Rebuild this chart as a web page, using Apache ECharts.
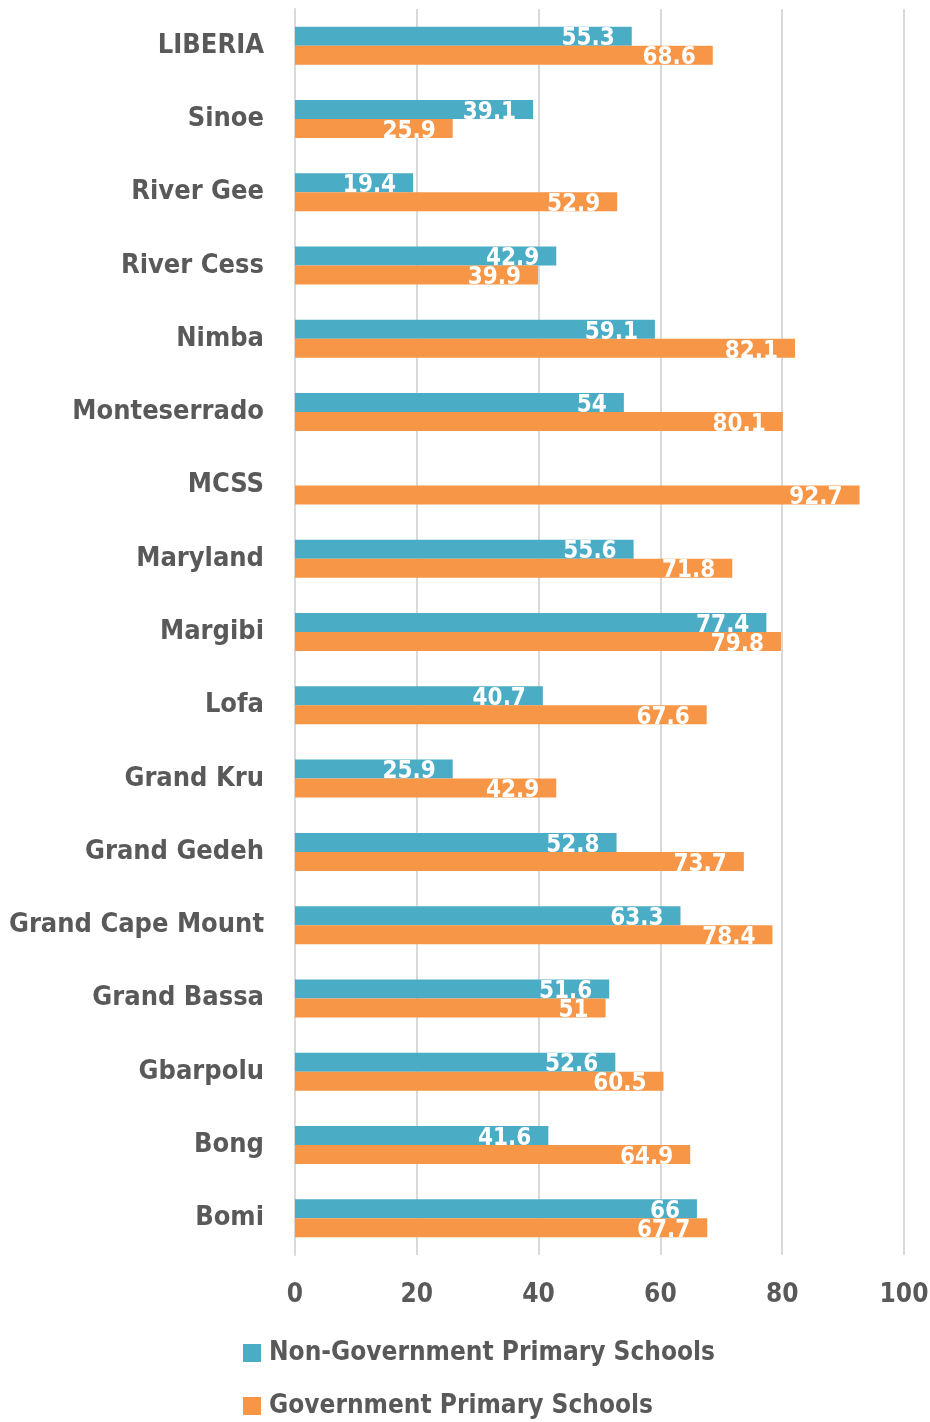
<!DOCTYPE html>
<html>
<head>
<meta charset="utf-8">
<script src="https://cdn.jsdelivr.net/npm/echarts@6/dist/echarts.min.js"></script>
<style>
html,body{margin:0;padding:0;background:#fff;}
#chart{width:930px;height:1422px;}
</style>
</head>
<body>
<div id="chart"></div>
<script>
const categories = ["LIBERIA","Sinoe","River Gee","River Cess","Nimba","Monteserrado","MCSS","Maryland","Margibi","Lofa","Grand Kru","Grand Gedeh","Grand Cape Mount","Grand Bassa","Gbarpolu","Bong","Bomi"];
const nonGovValues = [55.3,39.1,19.4,42.9,59.1,54,null,55.6,77.4,40.7,25.9,52.8,63.3,51.6,52.6,41.6,66];
const govValues = [68.6,25.9,52.9,39.9,82.1,80.1,92.7,71.8,79.8,67.6,42.9,73.7,78.4,51,60.5,64.9,67.7];
const seriesNames = ["Non-Government Primary Schools","Government Primary Schools"];
const xTicks = [0,20,40,60,80,100];

const FONT = "'Liberation Sans Narrow','DejaVu Sans Condensed','Roboto Condensed',sans-serif";
const chart = echarts.init(document.getElementById('chart'));
const labelCfg = {
  show: true,
  position: 'insideRight',
  offset: [-12, 3],
  color: '#ffffff',
  fontFamily: FONT,
  fontWeight: 'bold',
  fontSize: 24
};
chart.setOption({
  animation: false,
  grid: {left: 295, right: 26, top: 9, bottom: 167, containLabel: false, outerBoundsMode: 'none'},
  legend: {
    orient: 'vertical',
    left: 243,
    top: 1338,
    height: 200,
    padding: 0,
    itemWidth: 18,
    itemHeight: 18,
    itemGap: 23,
    icon: 'rect',
    data: seriesNames,
    textStyle: {fontFamily: FONT, fontWeight: 'bold', fontSize: 26, color: '#595959', lineHeight: 30, padding: [0,0,0,3]}
  },
  xAxis: {
    type: 'value',
    min: 0, max: 100, interval: 20,
    axisLine: {show: false},
    axisTick: {show: false},
    splitLine: {show: true, lineStyle: {color: '#d9d9d9', width: 2}},
    axisLabel: {
      margin: 27,
      fontFamily: FONT, fontWeight: 'bold', fontSize: 26, color: '#595959',
      formatter: v => xTicks.includes(v) ? String(v) : ''
    }
  },
  yAxis: {
    type: 'category',
    inverse: true,
    data: categories,
    axisLine: {show: true, lineStyle: {color: '#d9d9d9', width: 2}},
    axisTick: {show: false},
    axisLabel: {margin: 31, fontFamily: FONT, fontWeight: 'bold', fontSize: 27, color: '#595959'}
  },
  series: [
    {name: seriesNames[0], type: 'bar', data: nonGovValues, barWidth: 19, barGap: '0%', barCategoryGap: '48%',
     itemStyle: {color: '#4BACC6'}, label: labelCfg},
    {name: seriesNames[1], type: 'bar', data: govValues, barWidth: 19, barGap: '0%', barCategoryGap: '48%',
     itemStyle: {color: '#F79646'}, label: labelCfg}
  ]
});
</script>
</body>
</html>
